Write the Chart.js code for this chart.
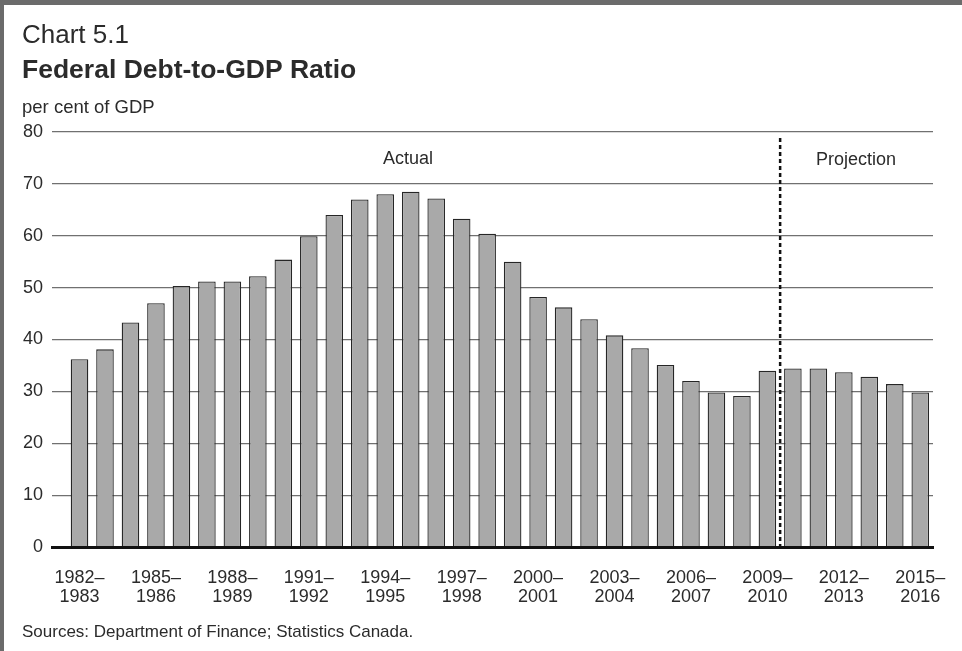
<!DOCTYPE html>
<html>
<head>
<meta charset="utf-8">
<script src="https://cdn.jsdelivr.net/npm/chart.js@4/dist/chart.umd.min.js"></script>
<style>
  html, body { margin: 0; padding: 0; background: #fff; }
  #wrap { width: 962px; height: 651px; position: relative; }
</style>
</head>
<body>
<div id="wrap"><canvas id="debtChart" width="962" height="651"></canvas></div>
<script>
// --- Data ---
const fiscalYears = [
    "1982–1983", "1983–1984", "1984–1985", "1985–1986", "1986–1987", "1987–1988",
    "1988–1989", "1989–1990", "1990–1991", "1991–1992", "1992–1993", "1993–1994",
    "1994–1995", "1995–1996", "1996–1997", "1997–1998", "1998–1999", "1999–2000",
    "2000–2001", "2001–2002", "2002–2003", "2003–2004", "2004–2005", "2005–2006",
    "2006–2007", "2007–2008", "2008–2009", "2009–2010", "2010–2011", "2011–2012",
    "2012–2013", "2013–2014", "2014–2015", "2015–2016"
];
const debtRatio = [
    36.2, 38.1, 43.3, 47.0, 50.3, 51.2, 51.2, 52.2, 55.4, 59.9, 64.0, 67.0,
    68.0, 68.5, 67.2, 63.3, 60.4, 55.0, 48.2, 46.2, 43.9, 40.8, 38.3, 35.1,
    32.0, 29.8, 29.1, 34.0, 34.4, 34.4, 33.7, 32.8, 31.4, 29.8
];
const labelEvery = 3;          // every third fiscal year gets a tick label
const firstProjection = "2010–2011";
const yTicks = [0, 10, 20, 30, 40, 50, 60, 70, 80];

const FONT = "'Liberation Sans', Arial, Helvetica, sans-serif";
const INK = "#2b2b2b";

// --- Extra drawing: frame, headings, actual/projection split ---
const decorations = {
    id: "decorations",
    beforeDraw(chart) {
        const c = chart.ctx;
        c.save();
        c.fillStyle = "#fff";
        c.fillRect(0, 0, chart.width, chart.height);
        c.fillStyle = "#6b6b6b";
        c.fillRect(0, 0, chart.width, 5);
        c.fillRect(0, 0, 4, chart.height);
        c.restore();
    },
    afterDatasetsDraw(chart) {
        const c = chart.ctx;
        const x = chart.scales.x;
        const area = chart.chartArea;
        const splitX = x.getPixelForValue(fiscalYears.indexOf(firstProjection) - 0.5);

        c.save();
        // dashed divider
        c.strokeStyle = "#111";
        c.lineWidth = 2.5;
        c.setLineDash([4, 3]);
        c.beginPath();
        c.moveTo(splitX, 138);
        c.lineTo(splitX, area.bottom);
        c.stroke();
        c.setLineDash([]);

        // region labels
        c.fillStyle = INK;
        c.font = "18px " + FONT;
        c.textAlign = "center";
        c.textBaseline = "alphabetic";
        c.fillText("Actual", 408, 164);
        c.fillText("Projection", 856, 165);

        // headings
        c.textAlign = "left";
        c.font = "26px " + FONT;
        c.fillText("Chart 5.1", 22, 43);
        c.font = "bold 26.5px " + FONT;
        c.fillText("Federal Debt-to-GDP Ratio", 22, 78);
        c.font = "18.5px " + FONT;
        c.fillText("per cent of GDP", 22, 113);

        // source note
        c.font = "17px " + FONT;
        c.fillText("Sources: Department of Finance; Statistics Canada.", 22, 637);
        c.restore();
    }
};

// --- Chart ---
const ctx = document.getElementById("debtChart").getContext("2d");
const barData = debtRatio.map((v, i) => ({ x: i, y: v }));

new Chart(ctx, {
    type: "bar",
    data: {
        datasets: [{
            label: "Federal debt-to-GDP ratio",
            data: barData,
            backgroundColor: "#a9a9a9",
            borderColor: "#262626",
            borderWidth: 1.3,
            categoryPercentage: 1,
            barPercentage: 0.69,
        }],
    },
    options: {
        responsive: false,
        animation: false,
        layout: { padding: { top: 132, right: 29, bottom: 0, left: 0 } },
        plugins: {
            legend: { display: false },
            tooltip: { enabled: false },
            title: { display: false },
        },
        scales: {
            x: {
                type: "linear",
                min: -1.08,
                max: 33.5,
                offset: false,
                grid: { display: false, drawTicks: false },
                border: { display: true, color: "#111", width: 3, z: 1 },
                afterFit(scale) {
                    scale.height = 104;
                    scale.paddingLeft = 0;
                    scale.paddingRight = 0;
                },
                afterBuildTicks(scale) {
                    const t = [];
                    for (let i = 0; i < fiscalYears.length; i += labelEvery) t.push({ value: i });
                    scale.ticks = t;
                },
                ticks: {
                    autoSkip: false,
                    maxRotation: 0,
                    padding: 22,
                    color: INK,
                    font: { family: FONT, size: 18, lineHeight: 1.05 },
                    callback(value) {
                        const parts = fiscalYears[value].split("–");
                        return [parts[0] + "–", parts[1]];
                    },
                },
            },
            y: {
                min: 0,
                max: 80,
                afterFit(scale) {
                    scale.width = 52;
                    scale.paddingTop = 0;
                    scale.paddingBottom = 0;
                },
                afterBuildTicks(scale) {
                    scale.ticks = yTicks.map((v) => ({ value: v }));
                },
                grid: { color: "#707070", lineWidth: 1.2, drawTicks: false },
                border: { display: false },
                ticks: {
                    padding: 9,
                    color: INK,
                    font: { family: FONT, size: 18 },
                },
            },
        },
    },
    plugins: [decorations],
});
</script>
</body>
</html>
